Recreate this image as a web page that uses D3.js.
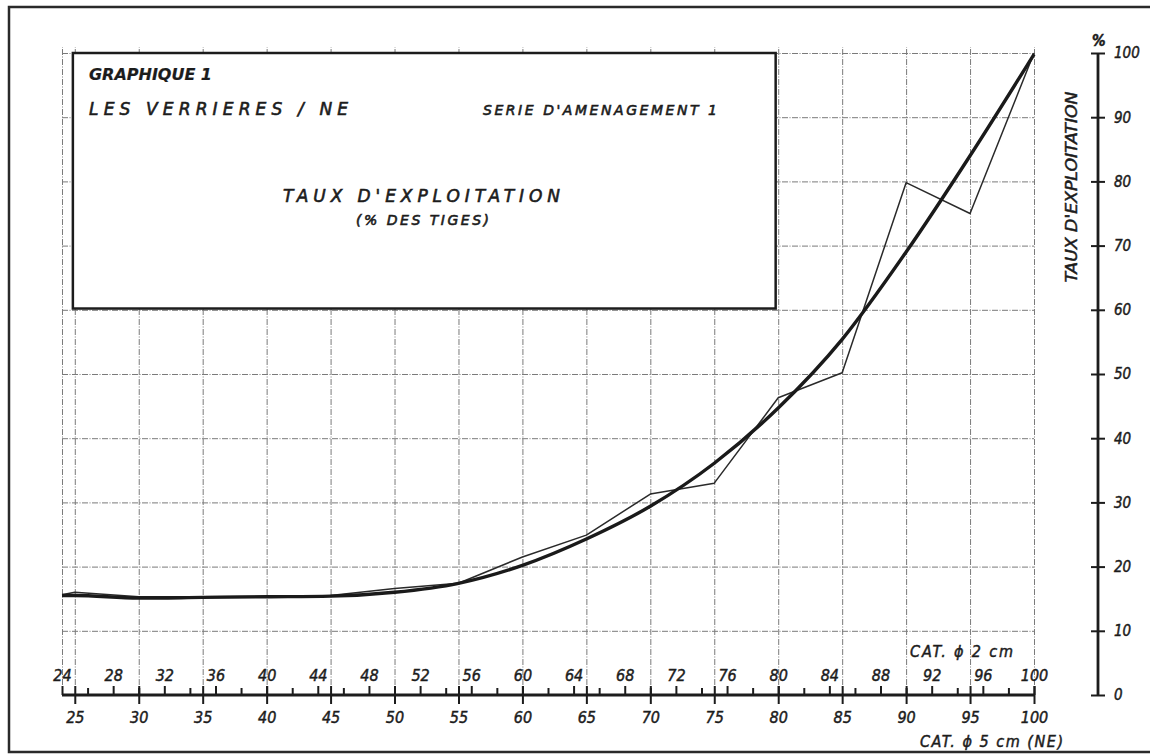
<!DOCTYPE html>
<html>
<head>
<meta charset="utf-8">
<script src="https://cdn.jsdelivr.net/npm/d3@7"></script>
<style>
  body { margin: 0; background: #fff; }
  svg { display: block; }
  text { font-family: 'DejaVu Sans Condensed', 'DejaVu Sans', sans-serif; font-stretch: condensed; font-style: italic; fill: #1c1c1c; stroke: #1c1c1c; stroke-width: 0.45px; }
  text.wide { font-family: 'DejaVu Sans', sans-serif; font-stretch: normal; stroke-width: 0.6px; }
  .grid line { stroke: #7a7a7a; stroke-width: 1; stroke-dasharray: 6,1.5,1,1.5; }
  .grid path { display: none; }
  .axis path { display: none; }
  .axis line { stroke: #1c1c1c; stroke-width: 2; }
</style>
</head>
<body>
<svg width="1150" height="755"></svg>
<script>
// diameter categories (5 cm classes, plus start of scale at 24)
var categories = [24, 25, 30, 35, 40, 45, 50, 55, 60, 65, 70, 75, 80, 85, 90, 95, 100];
// observed rate of exploitation (% of stems) - thin line
var observed = [15.6, 16.0, 15.3, 15.3, 15.4, 15.5, 16.6, 17.4, 21.5, 24.9, 31.3, 33.0, 46.3, 50.2, 79.8, 75.0, 100];
// adjusted / smoothed curve - thick line
var adjusted = [15.5, 15.5, 15.1, 15.2, 15.3, 15.4, 16.0, 17.4, 20.2, 24.3, 29.4, 36.1, 44.7, 55.4, 69.0, 84.0, 99.8];

var ticks5cm = [25, 30, 35, 40, 45, 50, 55, 60, 65, 70, 75, 80, 85, 90, 95, 100];
var ticks2cm = d3.range(24, 101, 2);
var ticksPct = [0, 10, 20, 30, 40, 50, 60, 70, 80, 90, 100];

var svg = d3.select("svg"),
    margin = {top: 53, right: 116, bottom: 60, left: 62},
    width = 1150 - margin.left - margin.right,
    height = 695 - margin.top,
    g = svg.append("g").attr("transform", "translate(" + margin.left + "," + margin.top + ")");

var x = d3.scaleLinear().domain([24, 100]).range([0, width]),
    y = d3.scaleLinear().domain([0, 100]).range([height, 0]);

// outer frame of the sheet
svg.append("path")
    .attr("d", "M1150,7 H9 V752 H1150")
    .attr("fill", "none")
    .attr("stroke", "#2a2a2a")
    .attr("stroke-width", 2.5);

// gridlines
g.append("g")
    .attr("class", "grid")
    .attr("transform", "translate(0," + height + ")")
    .call(d3.axisBottom(x).tickValues([24].concat(ticks5cm)).tickSize(-height - 6).tickFormat(""));

g.append("g")
    .attr("class", "grid")
    .call(d3.axisLeft(y).tickValues(ticksPct.slice(1)).tickSize(-width).tickFormat(""));

// title box
g.append("rect")
    .attr("x", x(24.85))
    .attr("y", y(100))
    .attr("width", x(79.8) - x(24.85))
    .attr("height", y(60.2) - y(100))
    .attr("fill", "#fff")
    .attr("stroke", "#1c1c1c")
    .attr("stroke-width", 2.5);

svg.append("text").attr("class", "wide").attr("x", 89).attr("y", 80)
    .attr("font-size", "16px").attr("font-weight", "bold").style("stroke-width", "0.2px")
    .attr("textLength", 123).attr("lengthAdjust", "spacingAndGlyphs")
    .text("GRAPHIQUE 1");
svg.append("text").attr("class", "wide").attr("x", 89).attr("y", 115)
    .attr("font-size", "17px")
    .attr("textLength", 259).attr("lengthAdjust", "spacing")
    .text("LES VERRIERES / NE");
svg.append("text").attr("class", "wide").attr("x", 483).attr("y", 115)
    .attr("font-size", "14px")
    .attr("textLength", 234).attr("lengthAdjust", "spacing")
    .text("SERIE D'AMENAGEMENT 1");
svg.append("text").attr("class", "wide").attr("x", 283).attr("y", 202)
    .attr("font-size", "17px")
    .attr("textLength", 277).attr("lengthAdjust", "spacing")
    .text("TAUX  D'EXPLOITATION");
svg.append("text").attr("class", "wide").attr("x", 356).attr("y", 225)
    .attr("font-size", "14px")
    .attr("textLength", 133).attr("lengthAdjust", "spacing")
    .text("(% DES TIGES)");

// curves
var lineObs = d3.line()
    .x(function(d, i) { return x(categories[i]); })
    .y(function(d) { return y(d); });
var lineAdj = d3.line()
    .curve(d3.curveMonotoneX)
    .x(function(d, i) { return x(categories[i]); })
    .y(function(d) { return y(d); });

g.append("path")
    .datum(observed)
    .attr("d", lineObs)
    .attr("fill", "none")
    .attr("stroke", "#2a2a2a")
    .attr("stroke-width", 1.5)
    .attr("stroke-linejoin", "round");

g.append("path")
    .datum(adjusted)
    .attr("d", lineAdj)
    .attr("fill", "none")
    .attr("stroke", "#1a1a1a")
    .attr("stroke-width", 3.4);

// bottom axis: 2 cm categories above, 5 cm categories below
var bottom = g.append("g").attr("transform", "translate(0," + height + ")");

bottom.append("line")
    .attr("x1", x(24)).attr("x2", x(100))
    .attr("stroke", "#1c1c1c").attr("stroke-width", 2.8);

var ax2 = bottom.append("g")
    .attr("class", "axis")
    .call(d3.axisTop(x).tickValues(ticks2cm).tickSize(8).tickSizeOuter(0).tickPadding(6)
        .tickFormat(function(d) { return (d - 24) % 4 === 0 ? d : ""; }));
ax2.selectAll(".tick line").attr("y2", function(d) { return (d - 24) % 4 === 0 ? -9 : -7; });
ax2.selectAll(".tick text").attr("font-size", "16px").attr("fill", "#1c1c1c").attr("font-family", null);

bottom.append("g")
    .attr("class", "axis")
    .call(d3.axisTop(x).tickValues(ticks5cm).tickSize(9).tickFormat(""));

var ax5 = bottom.append("g")
    .attr("class", "axis")
    .call(d3.axisBottom(x).tickValues(ticks5cm).tickSize(9).tickSizeOuter(0).tickPadding(8));
ax5.selectAll(".tick text").attr("font-size", "16px").attr("fill", "#1c1c1c").attr("font-family", null);

svg.append("text").attr("x", 910).attr("y", 657)
    .attr("font-size", "16px")
    .attr("textLength", 103).attr("lengthAdjust", "spacing")
    .text("CAT. \u03d5 2 cm");
svg.append("text").attr("x", 920).attr("y", 747)
    .attr("font-size", "16px")
    .attr("textLength", 143).attr("lengthAdjust", "spacing")
    .text("CAT. \u03d5 5 cm (NE)");

// right percentage axis
var right = g.append("g").attr("transform", "translate(" + (width + 64) + ",0)");

right.append("line")
    .attr("y1", y(0)).attr("y2", y(100))
    .attr("stroke", "#1c1c1c").attr("stroke-width", 2.8);

var axR = right.append("g")
    .attr("class", "axis")
    .call(d3.axisRight(y).tickValues(ticksPct).tickSize(7).tickSizeOuter(0).tickPadding(9));
axR.selectAll(".tick text").attr("font-size", "15px").attr("fill", "#1c1c1c").attr("font-family", null);

right.append("g")
    .attr("class", "axis")
    .call(d3.axisLeft(y).tickValues(ticksPct).tickSize(7).tickFormat(""));

right.append("text")
    .attr("x", -6).attr("y", -7)
    .attr("font-size", "15px").attr("font-weight", "bold")
    .text("%");

svg.append("text")
    .attr("transform", "translate(1077,187) rotate(-90)")
    .attr("text-anchor", "middle")
    .attr("font-size", "15px")
    .attr("textLength", 191).attr("lengthAdjust", "spacingAndGlyphs")
    .text("TAUX D'EXPLOITATION");
</script>
</body>
</html>
